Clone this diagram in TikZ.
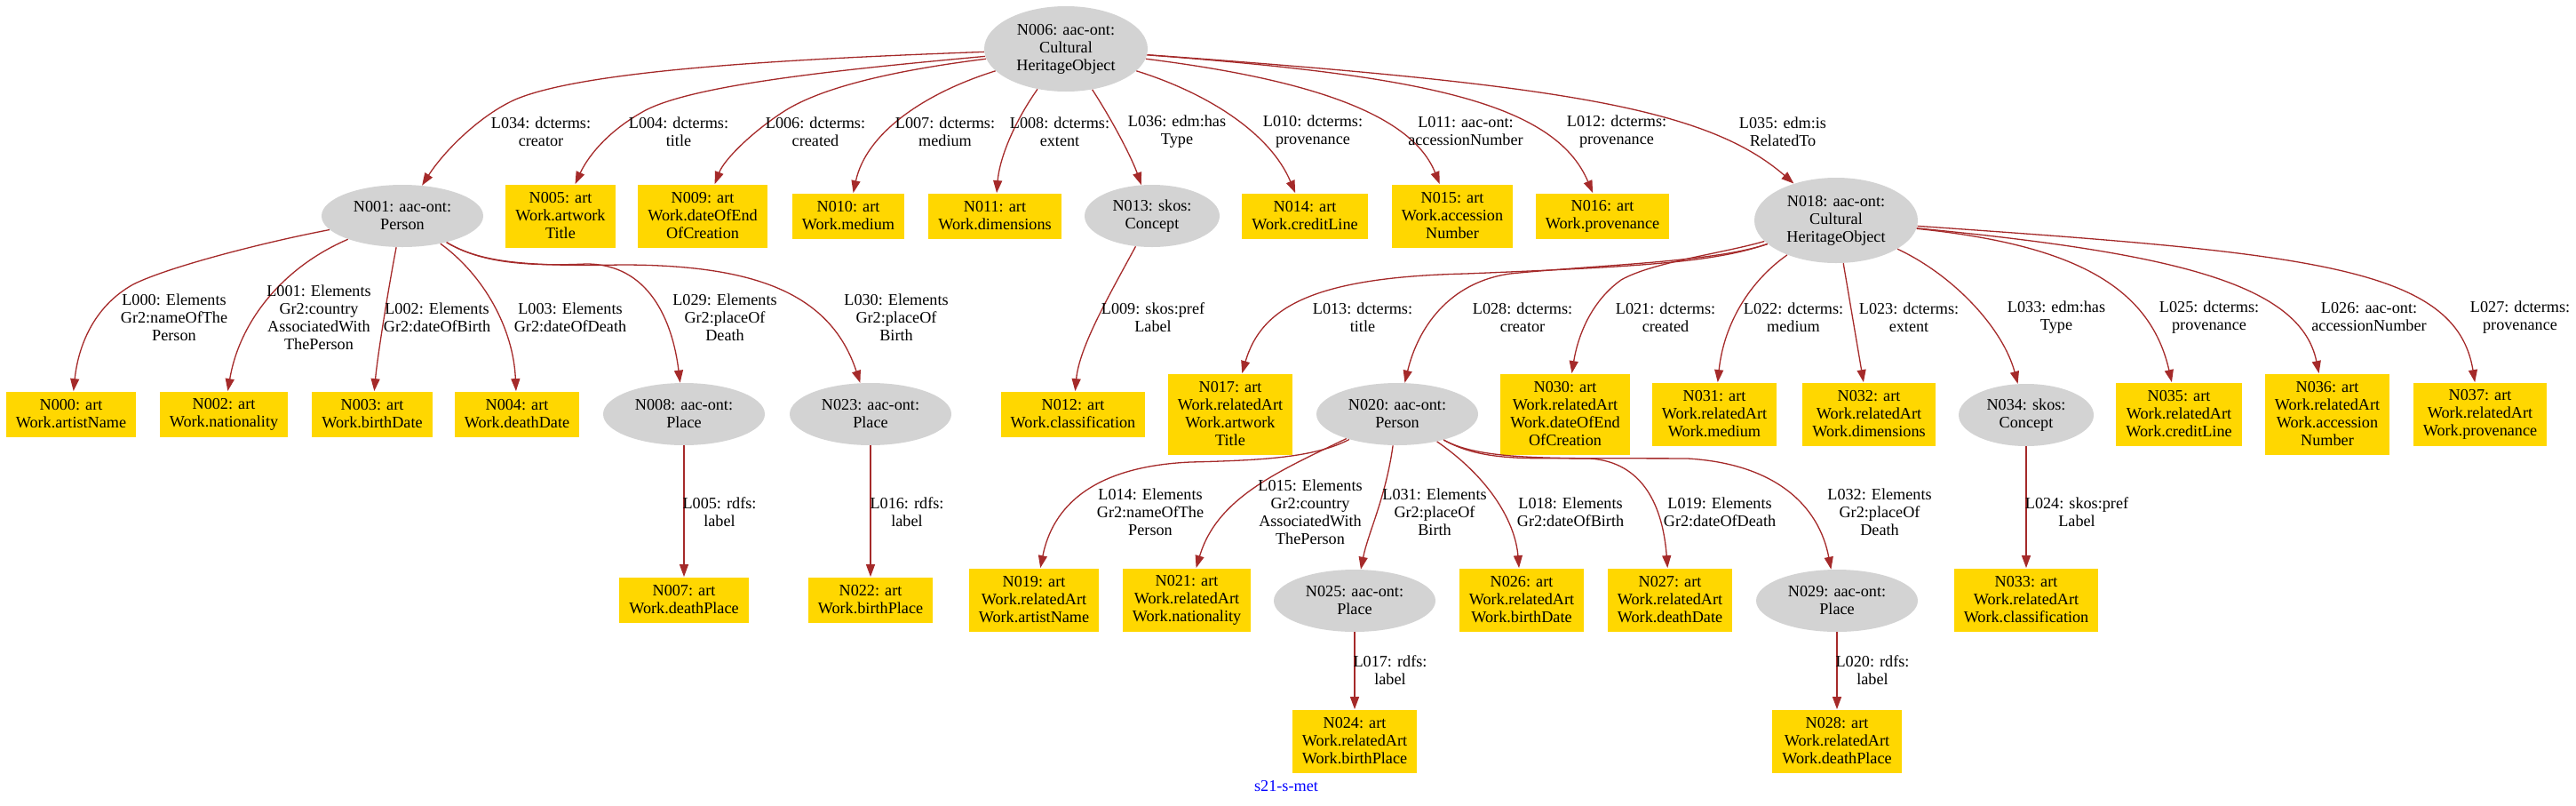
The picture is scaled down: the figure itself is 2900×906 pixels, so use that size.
\documentclass[tikz,border=0pt]{standalone}
\usepackage{fontspec}
\setmainfont{Liberation Serif}
\usetikzlibrary{shapes.geometric,arrows.meta}
\definecolor{gvgold}{HTML}{FFD700}
\definecolor{gvgray}{HTML}{D3D3D3}
\definecolor{gvbrown}{HTML}{A52A2A}
\begin{document}
\begin{tikzpicture}[x=0.5pt,y=-0.5pt,
  every node/.style={font=\fontsize{9.1pt}{10pt}\selectfont},
  gbox/.style={rectangle, fill=gvgold, inner xsep=5.5pt, inner ysep=1pt, align=center},
  box2/.style={gbox, minimum height=25.5pt},
  box3/.style={gbox, minimum height=35.5pt},
  box4/.style={gbox, minimum height=45.5pt},
  gell/.style={ellipse, fill=gvgray, inner sep=0pt, align=center, minimum width=91pt, minimum height=35pt},
  bigell/.style={gell, minimum width=92pt, minimum height=48pt},
  smell/.style={gell, minimum width=76pt},
  elab/.style={align=center, inner sep=0pt},
  gvedge/.style={draw=gvbrown, line width=0.65pt, -{Triangle[length=7pt,width=5pt]}}
]
\fill[white] (0,0) rectangle (2900,906);
\useasboundingbox (0,0) rectangle (2900,906);

% ellipses
\node[bigell] (n006) at (1200,55) {N006: aac-ont:\\Cultural\\HeritageObject};
\node[gell] (n001) at (453,243) {N001: aac-ont:\\Person};
\node[smell] (n013) at (1297,243) {N013: skos:\\Concept};
\node[bigell] (n018) at (2067,248) {N018: aac-ont:\\Cultural\\HeritageObject};
\node[gell] (n008) at (770,466) {N008: aac-ont:\\Place};
\node[gell] (n023) at (980,466) {N023: aac-ont:\\Place};
\node[gell] (n020) at (1573,466) {N020: aac-ont:\\Person};
\node[smell] (n034) at (2281,467) {N034: skos:\\Concept};
\node[gell] (n025) at (1525,676) {N025: aac-ont:\\Place};
\node[gell] (n029) at (2068,676) {N029: aac-ont:\\Place};

% boxes row 1
\node[box3] (n005) at (631,243) {N005: art\\Work.artwork\\Title};
\node[box3] (n009) at (791,243) {N009: art\\Work.dateOfEnd\\OfCreation};
\node[box2] (n010) at (955,243) {N010: art\\Work.medium};
\node[box2] (n011) at (1120,243) {N011: art\\Work.dimensions};
\node[box2] (n014) at (1469,243) {N014: art\\Work.creditLine};
\node[box3] (n015) at (1635,243) {N015: art\\Work.accession\\Number};
\node[box2] (n016) at (1804,243) {N016: art\\Work.provenance};
% boxes row 2
\node[box2] (n000) at (80,466) {N000: art\\Work.artistName};
\node[box2] (n002) at (252,466) {N002: art\\Work.nationality};
\node[box2] (n003) at (419,466) {N003: art\\Work.birthDate};
\node[box2] (n004) at (582,466) {N004: art\\Work.deathDate};
\node[box2] (n012) at (1208,466) {N012: art\\Work.classification};
\node[box4] (n017) at (1385,466) {N017: art\\Work.relatedArt\\Work.artwork\\Title};
\node[box4] (n030) at (1762,466) {N030: art\\Work.relatedArt\\Work.dateOfEnd\\OfCreation};
\node[box3] (n031) at (1930,466) {N031: art\\Work.relatedArt\\Work.medium};
\node[box3] (n032) at (2104,466) {N032: art\\Work.relatedArt\\Work.dimensions};
\node[box3] (n035) at (2453,466) {N035: art\\Work.relatedArt\\Work.creditLine};
\node[box4] (n036) at (2620,466) {N036: art\\Work.relatedArt\\Work.accession\\Number};
\node[box3] (n037) at (2792,466) {N037: art\\Work.relatedArt\\Work.provenance};
% boxes row 3
\node[box2] (n007) at (770,675) {N007: art\\Work.deathPlace};
\node[box2] (n022) at (980,675) {N022: art\\Work.birthPlace};
\node[box3] (n019) at (1164,675) {N019: art\\Work.relatedArt\\Work.artistName};
\node[box3] (n021) at (1336,675) {N021: art\\Work.relatedArt\\Work.nationality};
\node[box3] (n026) at (1713,675) {N026: art\\Work.relatedArt\\Work.birthDate};
\node[box3] (n027) at (1880,675) {N027: art\\Work.relatedArt\\Work.deathDate};
\node[box3] (n033) at (2281,675) {N033: art\\Work.relatedArt\\Work.classification};
% boxes row 4
\node[box3] (n024) at (1525,834) {N024: art\\Work.relatedArt\\Work.birthPlace};
\node[box3] (n028) at (2068,834) {N028: art\\Work.relatedArt\\Work.deathPlace};

\node[text=blue, inner sep=0pt] (title) at (1448,885) {s21-s-met};

% edges from N006
\draw[gvedge] (n006) .. controls (900,66) and (660,78) .. (580,112) .. controls (540,130) and (500,170) .. (n001);
\draw[gvedge] (n006) .. controls (950,78) and (780,95) .. (725,125) .. controls (680,150) and (660,180) .. (n005);
\draw[gvedge] (n006) .. controls (1000,80) and (920,100) .. (880,127) .. controls (845,150) and (815,180) .. (n009);
\draw[gvedge] (n006) .. controls (1040,105) and (975,150) .. (n010);
\draw[gvedge] (n006) .. controls (1140,140) and (1125,180) .. (n011);
\draw[gvedge] (n006) .. controls (1255,140) and (1275,180) .. (n013);
\draw[gvedge] (n006) .. controls (1360,105) and (1430,150) .. (n014);
\draw[gvedge] (n006) .. controls (1480,90) and (1590,130) .. (n015);
\draw[gvedge] (n006) .. controls (1600,85) and (1750,115) .. (n016);
\draw[gvedge] (n006) .. controls (1750,95) and (1920,120) .. (n018);

% edges from N001
\draw[gvedge] (n001) .. controls (300,272) and (190,300) .. (150,320) .. controls (105,345) and (88,390) .. (n000);
\draw[gvedge] (n001) .. controls (320,300) and (270,360) .. (n002);
\draw[gvedge] (n001) .. controls (438,320) and (425,400) .. (n003);
\draw[gvedge] (n001) .. controls (545,310) and (578,370) .. (n004);
\draw[gvedge] (n001) .. controls (540,295) and (590,300) .. (660,297) .. controls (730,297) and (757,360) .. (n008);
\draw[gvedge] (n001) .. controls (540,295) and (590,300) .. (700,298) .. controls (850,298) and (935,330) .. (n023);

% edge from N013
\draw[gvedge] (n013) .. controls (1250,330) and (1215,390) .. (n012);

% edges from N018
\draw[gvedge] (n018) .. controls (1930,295) and (1850,300) .. (1650,308) .. controls (1480,312) and (1420,345) .. (n017);
\draw[gvedge] (n018) .. controls (1930,295) and (1800,298) .. (1700,308) .. controls (1630,318) and (1596,370) .. (n020);
\draw[gvedge] (n018) .. controls (1940,285) and (1860,295) .. (1825,315) .. controls (1790,340) and (1776,380) .. (n030);
\draw[gvedge] (n018) .. controls (1965,320) and (1940,370) .. (n031);
\draw[gvedge] (n018) -- (n032);
\draw[gvedge] (n018) .. controls (2200,310) and (2255,370) .. (n034);
\draw[gvedge] (n018) .. controls (2330,275) and (2420,320) .. (n035);
\draw[gvedge] (n018) .. controls (2450,285) and (2590,320) .. (n036);
\draw[gvedge] (n018) .. controls (2600,285) and (2765,300) .. (n037);

% edges from N020
\draw[gvedge] (n020) .. controls (1480,515) and (1420,518) .. (1340,520) .. controls (1230,525) and (1185,570) .. (n019);
\draw[gvedge] (n020) .. controls (1440,530) and (1370,560) .. (n021);
\draw[gvedge] (n020) .. controls (1560,560) and (1540,600) .. (n025);
\draw[gvedge] (n020) .. controls (1680,540) and (1706,590) .. (n026);
\draw[gvedge] (n020) .. controls (1670,520) and (1720,515) .. (1790,516) .. controls (1850,520) and (1872,570) .. (n027);
\draw[gvedge] (n020) .. controls (1670,520) and (1760,515) .. (1900,516) .. controls (2000,522) and (2048,570) .. (n029);

% straight edges
\draw[gvedge] (n008) -- (n007);
\draw[gvedge] (n023) -- (n022);
\draw[gvedge] (n025) -- (n024);
\draw[gvedge] (n029) -- (n028);
\draw[gvedge] (n034) -- (n033);

% edge labels row 1
\node[elab] (l034) at (609,148) {L034: dcterms:\\creator};
\node[elab] (l004) at (764,148) {L004: dcterms:\\title};
\node[elab] (l006) at (918,148) {L006: dcterms:\\created};
\node[elab] (l007) at (1064,148) {L007: dcterms:\\medium};
\node[elab] (l008) at (1193,148) {L008: dcterms:\\extent};
\node[elab] (l036) at (1325,148) {L036: edm:has\\Type};
\node[elab] (l010) at (1478,148) {L010: dcterms:\\provenance};
\node[elab] (l011) at (1650,148) {L011: aac-ont:\\accessionNumber};
\node[elab] (l012) at (1820,148) {L012: dcterms:\\provenance};
\node[elab] (l035) at (2007,148) {L035: edm:is\\RelatedTo};
% row 2
\node[elab] (l000) at (196,357) {L000: Elements\\Gr2:nameOfThe\\Person};
\node[elab] (l001) at (359,357) {L001: Elements\\Gr2:country\\AssociatedWith\\ThePerson};
\node[elab] (l002) at (492,357) {L002: Elements\\Gr2:dateOfBirth};
\node[elab] (l003) at (642,357) {L003: Elements\\Gr2:dateOfDeath};
\node[elab] (l029) at (816,357) {L029: Elements\\Gr2:placeOf\\Death};
\node[elab] (l030) at (1009,357) {L030: Elements\\Gr2:placeOf\\Birth};
\node[elab] (l009) at (1298,357) {L009: skos:pref\\Label};
\node[elab] (l013) at (1534,357) {L013: dcterms:\\title};
\node[elab] (l028) at (1714,357) {L028: dcterms:\\creator};
\node[elab] (l021) at (1875,357) {L021: dcterms:\\created};
\node[elab] (l022) at (2019,357) {L022: dcterms:\\medium};
\node[elab] (l023) at (2149,357) {L023: dcterms:\\extent};
\node[elab] (l033) at (2315,357) {L033: edm:has\\Type};
\node[elab] (l025) at (2487,357) {L025: dcterms:\\provenance};
\node[elab] (l026) at (2667,357) {L026: aac-ont:\\accessionNumber};
\node[elab] (l027) at (2837,357) {L027: dcterms:\\provenance};
% row 3
\node[elab] (l005) at (810,576) {L005: rdfs:\\label};
\node[elab] (l016) at (1021,576) {L016: rdfs:\\label};
\node[elab] (l014) at (1295,576) {L014: Elements\\Gr2:nameOfThe\\Person};
\node[elab] (l015) at (1475,576) {L015: Elements\\Gr2:country\\AssociatedWith\\ThePerson};
\node[elab] (l031) at (1615,576) {L031: Elements\\Gr2:placeOf\\Birth};
\node[elab] (l018) at (1768,576) {L018: Elements\\Gr2:dateOfBirth};
\node[elab] (l019) at (1936,576) {L019: Elements\\Gr2:dateOfDeath};
\node[elab] (l032) at (2116,576) {L032: Elements\\Gr2:placeOf\\Death};
\node[elab] (l024) at (2338,576) {L024: skos:pref\\Label};
% row 4
\node[elab] (l017) at (1565,754) {L017: rdfs:\\label};
\node[elab] (l020) at (2108,754) {L020: rdfs:\\label};
\end{tikzpicture}
\end{document}
